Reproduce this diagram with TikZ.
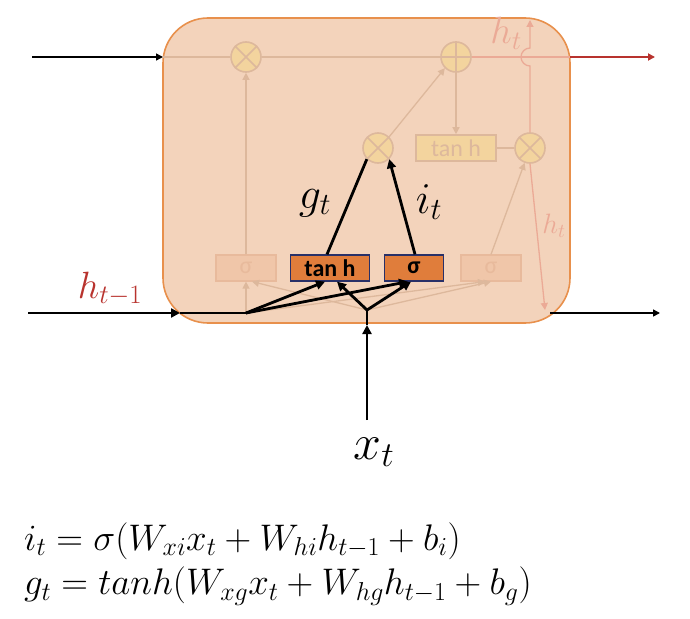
\RequirePackage{fix-cm}
\documentclass[tikz,border=0pt]{standalone}
\usepackage{fontspec}
\newfontfamily\carlito{Carlito}
\usetikzlibrary{arrows.meta, positioning, calc}
\definecolor{cellfill}{HTML}{F3D3BB}
\definecolor{celledge}{HTML}{E8904C}
\definecolor{fadeline}{HTML}{DDB89C}
\definecolor{fadeop}{HTML}{F3D49E}
\definecolor{fadebox}{HTML}{F0C6A9}
\definecolor{fadeboxedge}{HTML}{E8BA9C}
\definecolor{gateorange}{HTML}{E07D3B}
\definecolor{gateedge}{HTML}{283068}
\definecolor{hred}{HTML}{B8332E}
\definecolor{fadered}{HTML}{EBAA96}

\tikzset{
  op/.style={circle, draw=fadeline, fill=fadeop, line width=1.6pt, minimum size=30pt, inner sep=0pt},
  fadegate/.style={draw=fadeboxedge, fill=fadebox, line width=1.2pt, minimum width=60pt, minimum height=26pt, inner sep=0pt, text=fadeboxedge, font=\carlito\fontsize{24}{24}\selectfont},
  gate/.style={draw=gateedge, fill=gateorange, line width=1.3pt, minimum height=26pt, inner sep=0pt, font=\carlito\bfseries\fontsize{24}{24}\selectfont},
  faint/.style={draw=fadeline, line width=1.3pt},
  main/.style={draw=black, line width=2.8pt},
  tip/.style={-{Triangle[length=9pt,width=9pt]}},
  smalltip/.style={-{Triangle[length=7pt,width=7pt]}},
}

\begin{document}
\begin{tikzpicture}[x=1pt,y=-1pt]
  \useasboundingbox (0,0) rectangle (690,618);

  %cell
  \draw[fill=cellfill, draw=celledge, line width=1.6pt, rounded corners=45pt] (163,18) rectangle (570,323);

  %operations and gates
  \node[op] (fmul) at (246,57) {};
  \node[op] (csum) at (456,57) {};
  \node[op] (imul) at (378,148) {};
  \node[fadegate, minimum width=80pt, fill=fadeop, draw=fadeline, line width=1.6pt, text=fadeline] (ctanh) at (456,148) {tan h};
  \node[op] (omul) at (530,148) {};
  \node[fadegate] (fgate) at (246,268) {σ};
  \node[gate, minimum width=79pt] (ggate) at (330,268) {tan h};
  \node[gate, minimum width=59pt] (igate) at (414,268) {σ};
  \node[fadegate] (ogate) at (491,268) {σ};

  \foreach \n in {fmul,imul,omul}
    \draw[faint, line width=1.6pt] (\n.north east) -- (\n.south west) (\n.north west) -- (\n.south east);
  \draw[faint, line width=1.6pt] (csum.north) -- (csum.south) (csum.east) -- (csum.west);

  %end points
  \coordinate (cprev) at (32,57);
  \coordinate (cin) at (163,57);
  \coordinate (cout) at (570,57);
  \coordinate (cnext) at (655,57);
  \coordinate (htop) at (530,20);
  \coordinate (hdown) at (545,310);
  \coordinate (hstart) at (550,313);
  \coordinate (hnext) at (660,313);
  \coordinate (hprev) at (28,313);
  \coordinate (hmid) at (180,313);
  \coordinate (jh) at (246,313);
  \coordinate (xin) at (367,420);
  \coordinate (xmid) at (367,325);
  \coordinate (xj) at (367,310);

  %cell state line
  \draw[smalltip, line width=1.5pt] (cprev) -- (cin);
  \draw[faint] (cin) -- (fmul) -- (csum);
  \draw[draw=fadered, line width=1.3pt] (csum) -- (cout);
  \draw[smalltip, draw=hred, fill=hred, line width=2.5pt] (cout) -- (cnext);

  %faded connections
  \draw[faint, smalltip] (fgate.north) -- (fmul.south);
  \draw[faint, smalltip] (imul.north east) -- (csum.south west);
  \draw[faint, smalltip] (csum.south) -- (ctanh.north);
  \draw[faint, line width=1.6pt] (ctanh.east) -- (omul.west);
  \draw[faint, smalltip] (ogate.north) -- (omul.-110);
  \draw[draw=fadered, line width=1.3pt, smalltip] (omul.north) -- (530,66) arc[start angle=90, end angle=270, radius=9] -- (htop);
  \draw[draw=fadered, line width=1.3pt, smalltip] (omul.south) -- (hdown);
  \draw[faint, smalltip] (jh) -- (fgate.south);
  \draw[faint, smalltip] (jh) -- ([xshift=-6pt]ogate.south);
  \draw[faint, smalltip] (xj) -- ([xshift=6pt]fgate.south);
  \draw[faint, smalltip] (xj) -- (ogate.south);
  \node[text=fadered, font=\fontsize{38}{38}\selectfont] (htlabel) at (506,33) {$h_t$};
  \node[text=fadered, font=\fontsize{28}{28}\selectfont] (hslabel) at (554,226) {$h_t$};

  %hidden state out
  \draw[smalltip, line width=1.5pt] (hstart) -- (hnext);

  %inputs
  \draw[main, tip] (hprev) -- (hmid);
  \draw[main] (hmid) -- (jh);
  \draw[main, tip] (xin) -- (xmid);
  \draw[main] (xmid) -- (xj);
  \draw[main, tip] (jh) -- ([xshift=-5pt]ggate.south);
  \draw[main, tip] (jh) -- ([xshift=-6pt]igate.south);
  \draw[main, tip] (xj) -- ([xshift=7pt]ggate.south);
  \draw[main, tip] (xj) -- ([xshift=-3pt]igate.south);

  %gate outputs
  \draw[main] ([xshift=-3pt]ggate.north) -- (imul.south west);
  \draw[main, tip] ([xshift=1pt]igate.north) -- (imul.south east);

  %labels
  \node[font=\fontsize{44}{44}\selectfont] (glabel) at (315,203) {$g_t$};
  \node[font=\fontsize{44}{44}\selectfont] (ilabel) at (429,202) {$i_t$};
  \node[text=hred, font=\fontsize{38}{38}\selectfont] (hlabel) at (110,289) {$h_{t-1}$};
  \node[font=\fontsize{50}{50}\selectfont] (xlabel) at (374,452) {$x_t$};

  %equations
  \node[anchor=west, inner sep=0pt, font=\fontsize{37}{37}\selectfont] (eqi) at (24,541) {$i_t = \sigma(W_{xi}x_t + W_{hi}h_{t-1} + b_i)$};
  \node[anchor=west, inner sep=0pt, font=\fontsize{37}{37}\selectfont] (eqg) at (24,586) {$g_t = tanh(W_{xg}x_t + W_{hg}h_{t-1} + b_g)$};
\end{tikzpicture}
\end{document}
